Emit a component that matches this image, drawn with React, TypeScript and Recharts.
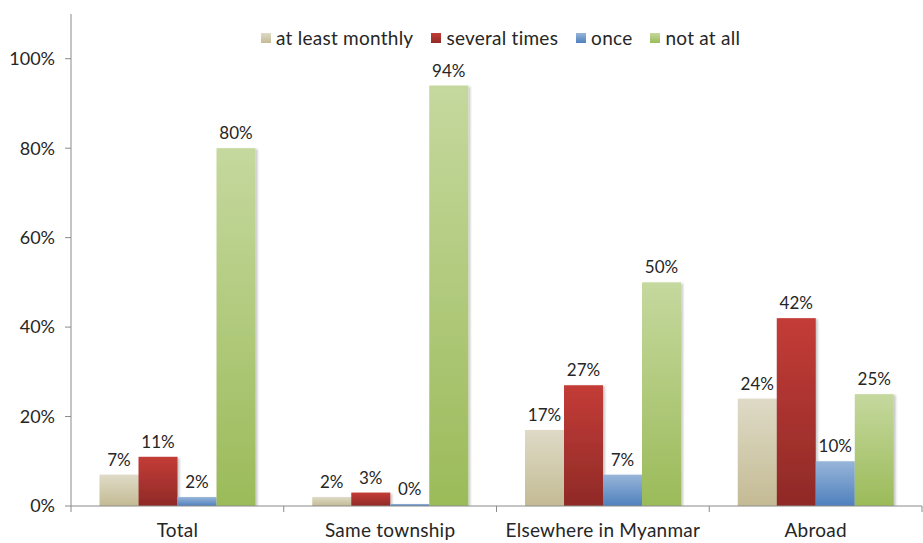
import { BarChart, Bar, XAxis, YAxis, LabelList } from "recharts";

const categories = ["Total", "Same township", "Elsewhere in Myanmar", "Abroad"];
const atLeastMonthly = [7, 2, 17, 24];
const severalTimes = [11, 3, 27, 42];
const once = [2, 0, 7, 10];
const notAtAll = [80, 94, 50, 25];
const yTicks = [0, 20, 40, 60, 80, 100];

const series = [
  { key: "monthly", name: "at least monthly", values: atLeastMonthly, top: "#DEDAC6", bottom: "#C4BB94" },
  { key: "several", name: "several times", values: severalTimes, top: "#C43C37", bottom: "#8F2A27" },
  { key: "once", name: "once", values: once, top: "#97B5D9", bottom: "#4F80BD" },
  { key: "none", name: "not at all", values: notAtAll, top: "#C5D89E", bottom: "#9BBB59" },
];

const data = categories.map((name, i) => {
  const row: Record<string, string | number> = { name };
  series.forEach((s) => (row[s.key] = s.values[i]));
  return row;
});

const W = 923;
const H = 543;
const Y_W = 71;
const M_RIGHT = 1;
const BAND = (W - Y_W - M_RIGHT) / categories.length;
const TEXT = "#262626";
const AXIS = "#8a8a8a";
const FONT = "Lato, 'Open Sans', sans-serif";

function CategoryTick(props: any) {
  const { x, y, payload, index } = props;
  const last = index === categories.length - 1;
  return (
    <g>
      <line x1={x - BAND / 2} x2={x - BAND / 2} y1={y} y2={y + 6} stroke={AXIS} />
      {last && <line x1={x + BAND / 2} x2={x + BAND / 2} y1={y} y2={y + 6} stroke={AXIS} />}
      <text x={x} y={y + 31} textAnchor="middle" fontSize={19} letterSpacing={0.25} fill={TEXT}>
        {payload.value}
      </text>
    </g>
  );
}

function ShadedBar(props: any) {
  const { x, y, width, height, fill } = props;
  if (!height || height <= 0) return null;
  return <rect x={x} y={y} width={width} height={height} fill={fill} filter="url(#barShadow)" />;
}

export default function App() {
  return (
    <div style={{ position: "fixed", left: 0, top: 0, width: W, height: H, background: "#fff", fontFamily: FONT }}>
      {/* legend row */}
      <div
        style={{
          position: "absolute",
          top: 26,
          left: 261,
          display: "flex",
          alignItems: "center",
          fontSize: 19,
          letterSpacing: 0.25,
          color: TEXT,
          whiteSpace: "nowrap",
        }}
      >
        {series.map((s) => (
          <div key={s.key} style={{ display: "flex", alignItems: "center", marginRight: 18 }}>
            <span
              style={{
                display: "inline-block",
                width: 10,
                height: 10,
                marginRight: 5,
                background: `linear-gradient(${s.top}, ${s.bottom})`,
              }}
            />
            {s.name}
          </div>
        ))}
      </div>

      <BarChart
        width={W}
        height={H}
        data={data}
        margin={{ top: 14, right: M_RIGHT, left: 0, bottom: 0 }}
        barCategoryGap="13.4%"
        barGap={0}
      >
        <defs>
          {series.map((s) => (
            <linearGradient key={s.key} id={`grad-${s.key}`} x1="0" y1="0" x2="0" y2="1">
              <stop offset="0%" stopColor={s.top} />
              <stop offset="100%" stopColor={s.bottom} />
            </linearGradient>
          ))}
          <filter id="barShadow" x="-10%" y="-10%" width="130%" height="120%">
            <feDropShadow dx="2" dy="1" stdDeviation="1.2" floodColor="#000" floodOpacity="0.22" />
          </filter>
        </defs>

        <XAxis
          dataKey="name"
          height={37}
          tickSize={0}
          tickMargin={0}
          tickLine={false}
          axisLine={{ stroke: AXIS }}
          tick={<CategoryTick />}
          interval={0}
        />
        <YAxis
          width={Y_W}
          domain={[0, 110]}
          ticks={yTicks}
          tickFormatter={(v: number) => `${v}%`}
          tick={{ fontSize: 18, fill: TEXT }}
          tickSize={6}
          tickMargin={10}
          tickLine={{ stroke: AXIS }}
          axisLine={{ stroke: AXIS }}
          allowDataOverflow
        />

        {series.map((s) => (
          <Bar
            key={s.key}
            dataKey={s.key}
            name={s.name}
            fill={`url(#grad-${s.key})`}
            shape={<ShadedBar />}
            minPointSize={s.key === "once" ? 2 : 0}
            isAnimationActive={false}
          >
            <LabelList
              dataKey={s.key}
              position="top"
              offset={9}
              formatter={(v: any) => `${v}%`}
              style={{ fontSize: 17, fill: TEXT }}
            />
          </Bar>
        ))}
      </BarChart>
    </div>
  );
}
